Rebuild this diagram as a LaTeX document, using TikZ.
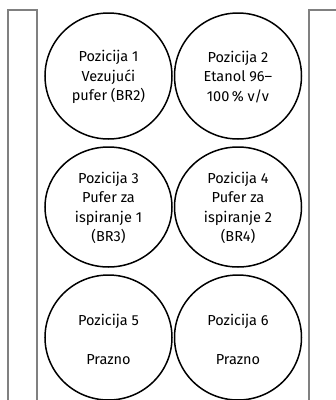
\documentclass[tikz,border=0pt]{standalone}
\usepackage{fontspec}
\setmainfont{Fira Sans}
\begin{document}
\begin{tikzpicture}[x=1pt,y=-1pt,
  strip/.style={draw=black!50, line width=1.4pt},
  well/.style={draw=black, line width=1.5pt},
  lbl/.style={align=center, font=\fontsize{14.5}{19.5}\selectfont, inner sep=0pt}]
\useasboundingbox (0,0) rectangle (336,400);
% side strips
\draw[strip] (8,402) -- (8,10) -- (37,10) -- (37,402);
\draw[strip] (309,402) -- (309,10) -- (338,10);
% wells
\draw[well] (108.5,76) ellipse [x radius=63.5, y radius=63];
\draw[well] (238,76) ellipse [x radius=63.5, y radius=63];
\draw[well] (108.5,207) ellipse [x radius=63.5, y radius=60];
\draw[well] (238,207) ellipse [x radius=63.5, y radius=60];
\draw[well] (108.5,337.5) ellipse [x radius=63.5, y radius=62.5];
\draw[well] (238,337.5) ellipse [x radius=63.5, y radius=62.5];
% labels
\node[lbl] (p1) at (108.5,77) {Pozicija 1\\Vezujući\\pufer (BR2)};
\node[lbl] (p2) at (238,77) {Pozicija 2\\Etanol 96–\\100\,\% v/v};
\node[lbl] (p3) at (108.5,208) {Pozicija 3\\Pufer za\\ispiranje 1\\(BR3)};
\node[lbl] (p4) at (238,208) {Pozicija 4\\Pufer za\\ispiranje 2\\(BR4)};
\node[lbl] (p5) at (108.5,339) {Pozicija 5\\[19.5pt]Prazno};
\node[lbl] (p6) at (238,339) {Pozicija 6\\[19.5pt]Prazno};
\end{tikzpicture}
\end{document}
